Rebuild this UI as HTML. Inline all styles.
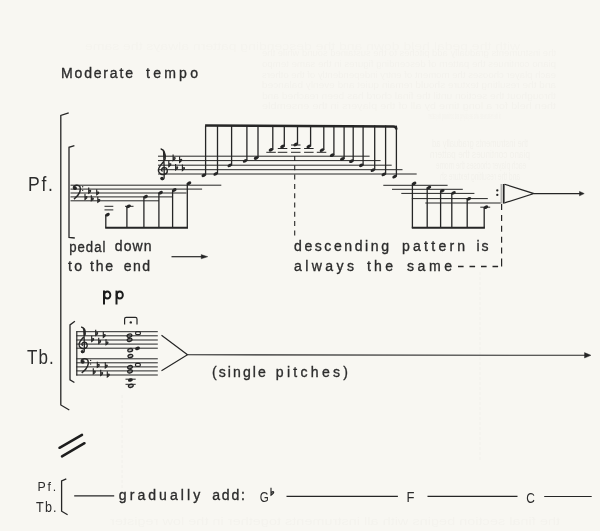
<!DOCTYPE html>
<html><head><meta charset="utf-8"><style>
html,body{margin:0;padding:0;background:#f8f7f2;}
body{width:600px;height:531px;overflow:hidden;position:relative;}
svg{position:absolute;left:0;top:0;will-change:transform;}
text{font-family:"Liberation Sans",sans-serif;}
</style></head><body>
<svg width="600" height="531" viewBox="0 0 600 531">
<g transform="translate(556.0 56) scale(-1 1)"><text x="0" y="0" font-family="Liberation Serif" font-size="9.5" textLength="294.0" lengthAdjust="spacingAndGlyphs" fill="#5a5244" opacity="0.024">the instruments gradually add pitches to the sustained sound while the</text></g>
<g transform="translate(556.0 66.8) scale(-1 1)"><text x="0" y="0" font-family="Liberation Serif" font-size="9.5" textLength="294.0" lengthAdjust="spacingAndGlyphs" fill="#5a5244" opacity="0.024">piano continues the pattern of descending figures in the same tempo</text></g>
<g transform="translate(556.0 77.6) scale(-1 1)"><text x="0" y="0" font-family="Liberation Serif" font-size="9.5" textLength="294.0" lengthAdjust="spacingAndGlyphs" fill="#5a5244" opacity="0.024">each player chooses the moment of entry independently of the others</text></g>
<g transform="translate(556.0 88.4) scale(-1 1)"><text x="0" y="0" font-family="Liberation Serif" font-size="9.5" textLength="294.0" lengthAdjust="spacingAndGlyphs" fill="#5a5244" opacity="0.024">and the resulting texture should remain quiet and evenly balanced</text></g>
<g transform="translate(556.0 99.2) scale(-1 1)"><text x="0" y="0" font-family="Liberation Serif" font-size="9.5" textLength="294.0" lengthAdjust="spacingAndGlyphs" fill="#5a5244" opacity="0.024">throughout the section until the final chord has been reached and</text></g>
<g transform="translate(556.0 109) scale(-1 1)"><text x="0" y="0" font-family="Liberation Serif" font-size="9.5" textLength="294.0" lengthAdjust="spacingAndGlyphs" fill="#5a5244" opacity="0.024">then held for a long time by all of the players in the ensemble</text></g>
<g transform="translate(501.0 118.5) scale(-1 1)"><text x="0" y="0" font-family="Liberation Serif" font-size="9.5" textLength="73.0" lengthAdjust="spacingAndGlyphs" fill="#5a5244" opacity="0.024">of the instruments who are playing and continuing the pattern</text></g>
<g transform="translate(528.0 147) scale(-1 1)"><text x="0" y="0" font-family="Liberation Serif" font-size="10.5" textLength="96.0" lengthAdjust="spacingAndGlyphs" fill="#5a5244" opacity="0.03">the instruments gradually ad</text></g>
<g transform="translate(530.0 158) scale(-1 1)"><text x="0" y="0" font-family="Liberation Serif" font-size="10.5" textLength="100.0" lengthAdjust="spacingAndGlyphs" fill="#5a5244" opacity="0.03">piano continues the pattern </text></g>
<g transform="translate(526.0 169) scale(-1 1)"><text x="0" y="0" font-family="Liberation Serif" font-size="10.5" textLength="90.0" lengthAdjust="spacingAndGlyphs" fill="#5a5244" opacity="0.03">each player chooses the mome</text></g>
<g transform="translate(520.0 180) scale(-1 1)"><text x="0" y="0" font-family="Liberation Serif" font-size="10.5" textLength="80.0" lengthAdjust="spacingAndGlyphs" fill="#5a5244" opacity="0.03">and the resulting texture sh</text></g>
<g transform="translate(520.0 50) scale(-1 1)"><text x="0" y="0" font-family="Liberation Serif" font-size="10.5" textLength="435.0" lengthAdjust="spacingAndGlyphs" fill="#5a5244" opacity="0.014">with the pedal held down and the descending pattern always the same</text></g>
<g transform="translate(560.0 525) scale(-1 1)"><text x="0" y="0" font-family="Liberation Serif" font-size="10.5" textLength="450.0" lengthAdjust="spacingAndGlyphs" fill="#5a5244" opacity="0.02">the final section begins with all instruments together in the low register</text></g>
<line x1="122" y1="395" x2="122" y2="490" stroke="#5a5244" stroke-width="1" stroke-dasharray="3 2" opacity="0.035"/>
<line x1="480" y1="272" x2="480" y2="460" stroke="#5a5244" stroke-width="1" stroke-dasharray="3 2" opacity="0.03"/>
<path d="M68.7,112.8 L60.8,115.4 L60.8,405 L69.3,410" stroke="#262626" stroke-width="1.3" fill="none" />
<path d="M74.4,145.7 L69,147.3 L69,237.3 L74.8,238" stroke="#262626" stroke-width="1.3" fill="none" />
<line x1="70.5" y1="185.2" x2="221.3" y2="185.2" stroke="#262626" stroke-width="1.0" />
<line x1="70.5" y1="189.1" x2="202.1" y2="189.1" stroke="#262626" stroke-width="1.0" />
<line x1="70.5" y1="193.0" x2="186.5" y2="193.0" stroke="#262626" stroke-width="1.0" />
<line x1="70.5" y1="196.9" x2="172.0" y2="196.9" stroke="#262626" stroke-width="1.0" />
<line x1="70.5" y1="200.8" x2="159.0" y2="200.8" stroke="#262626" stroke-width="1.0" />
<path d="M73.39,187.96 C73.78,184.61 78.52,184.41 79.91,186.58 C81.29,189.15 80.10,194.68 73.98,199.02" stroke="#262626" stroke-width="1.5" fill="none" />
<circle cx="74.97" cy="188.16" r="1.90" fill="#262626"/>
<circle cx="82.67" cy="186.78" r="0.67" fill="#262626"/>
<circle cx="82.67" cy="190.33" r="0.67" fill="#262626"/>
<path d="M85.00,193.84 L85.00,199.52 C86.12,198.80 87.32,197.84 87.00,197.04 C86.68,196.32 85.56,196.88 85.00,197.60" stroke="#262626" stroke-width="1.15" fill="#262626" fill-opacity="0.55"/>
<path d="M88.70,187.54 L88.70,193.22 C89.82,192.50 91.02,191.54 90.70,190.74 C90.38,190.02 89.26,190.58 88.70,191.30" stroke="#262626" stroke-width="1.15" fill="#262626" fill-opacity="0.55"/>
<path d="M91.30,195.14 L91.30,200.82 C92.42,200.10 93.62,199.14 93.30,198.34 C92.98,197.62 91.86,198.18 91.30,198.90" stroke="#262626" stroke-width="1.15" fill="#262626" fill-opacity="0.55"/>
<path d="M96.70,189.14 L96.70,194.82 C97.82,194.10 99.02,193.14 98.70,192.34 C98.38,191.62 97.26,192.18 96.70,192.90" stroke="#262626" stroke-width="1.15" fill="#262626" fill-opacity="0.55"/>
<path d="M97.80,196.64 L97.80,202.32 C98.92,201.60 100.12,200.64 99.80,199.84 C99.48,199.12 98.36,199.68 97.80,200.40" stroke="#262626" stroke-width="1.15" fill="#262626" fill-opacity="0.55"/>
<line x1="105.8" y1="214.7" x2="105.8" y2="227.8" stroke="#262626" stroke-width="1.3" />
<ellipse cx="107.5" cy="214.7" rx="2.45" ry="1.6" transform="rotate(-25 107.5 214.7)" fill="#262626"/>
<line x1="126.9" y1="206.3" x2="126.9" y2="227.8" stroke="#262626" stroke-width="1.3" />
<ellipse cx="128.6" cy="206.3" rx="2.45" ry="1.6" transform="rotate(-25 128.6 206.3)" fill="#262626"/>
<line x1="143.9" y1="196.7" x2="143.9" y2="227.8" stroke="#262626" stroke-width="1.3" />
<ellipse cx="145.6" cy="196.7" rx="2.45" ry="1.6" transform="rotate(-25 145.6 196.7)" fill="#262626"/>
<line x1="158.9" y1="192.7" x2="158.9" y2="227.8" stroke="#262626" stroke-width="1.3" />
<ellipse cx="160.6" cy="192.7" rx="2.45" ry="1.6" transform="rotate(-25 160.6 192.7)" fill="#262626"/>
<line x1="172.6" y1="190.0" x2="172.6" y2="227.8" stroke="#262626" stroke-width="1.3" />
<ellipse cx="174.29999999999998" cy="190.0" rx="2.45" ry="1.6" transform="rotate(-25 174.29999999999998 190.0)" fill="#262626"/>
<line x1="187.3" y1="183.2" x2="187.3" y2="227.8" stroke="#262626" stroke-width="1.3" />
<ellipse cx="189.0" cy="183.2" rx="2.45" ry="1.6" transform="rotate(-25 189.0 183.2)" fill="#262626"/>
<line x1="105.2" y1="227.7" x2="188.0" y2="227.7" stroke="#262626" stroke-width="2.1" />
<line x1="104.5" y1="206.3" x2="113.3" y2="206.3" stroke="#262626" stroke-width="1.0" />
<line x1="104.5" y1="209.9" x2="113.3" y2="209.9" stroke="#262626" stroke-width="1.0" />
<line x1="125.0" y1="206.3" x2="133.5" y2="206.3" stroke="#262626" stroke-width="1.0" />
<line x1="158" y1="156.2" x2="369.6" y2="156.2" stroke="#262626" stroke-width="1.0" />
<line x1="158" y1="160.6" x2="380.6" y2="160.6" stroke="#262626" stroke-width="1.0" />
<line x1="158" y1="165.2" x2="391.7" y2="165.2" stroke="#262626" stroke-width="1.0" />
<line x1="158" y1="169.7" x2="402.5" y2="169.7" stroke="#262626" stroke-width="1.0" />
<line x1="158" y1="174.0" x2="416.7" y2="174.0" stroke="#262626" stroke-width="1.0" />
<path d="M161.38,177.80 C160.70,179.82 163.85,180.27 164.08,178.02 L164.08,178.02 C164.53,171.95 163.85,160.70 163.62,151.70 C163.40,149.90 161.60,149.00 160.70,149.00 M160.70,149.00 C163.85,149.45 165.65,151.70 165.20,158.90 C164.75,162.05 158.90,165.20 158.45,169.70 C158.00,173.30 162.05,175.55 165.20,174.20 C168.35,172.85 167.90,167.90 164.30,167.45 C161.60,167.45 160.70,170.15 162.50,171.50" stroke="#262626" stroke-width="1.35" fill="none" />
<circle cx="162.05" cy="178.47" r="1.71" fill="#262626"/>
<path d="M168.80,160.68 L168.80,166.72 C169.99,165.95 171.27,164.93 170.93,164.08 C170.59,163.31 169.40,163.91 168.80,164.67" stroke="#262626" stroke-width="1.15" fill="#262626" fill-opacity="0.55"/>
<path d="M173.10,154.58 L173.10,160.62 C174.29,159.85 175.56,158.83 175.22,157.98 C174.88,157.22 173.69,157.81 173.10,158.57" stroke="#262626" stroke-width="1.15" fill="#262626" fill-opacity="0.55"/>
<path d="M175.60,163.88 L175.60,169.92 C176.79,169.15 178.06,168.13 177.72,167.28 C177.38,166.52 176.19,167.11 175.60,167.88" stroke="#262626" stroke-width="1.15" fill="#262626" fill-opacity="0.55"/>
<path d="M179.60,156.38 L179.60,162.42 C180.79,161.65 182.06,160.63 181.72,159.78 C181.38,159.02 180.19,159.61 179.60,160.38" stroke="#262626" stroke-width="1.15" fill="#262626" fill-opacity="0.55"/>
<path d="M182.40,164.58 L182.40,170.62 C183.59,169.85 184.87,168.83 184.53,167.98 C184.19,167.22 183.00,167.81 182.40,168.57" stroke="#262626" stroke-width="1.15" fill="#262626" fill-opacity="0.55"/>
<line x1="205.6" y1="125.6" x2="205.6" y2="175.3" stroke="#262626" stroke-width="1.3" />
<ellipse cx="203.79999999999998" cy="175.3" rx="2.45" ry="1.6" transform="rotate(-25 203.79999999999998 175.3)" fill="#262626"/>
<line x1="217.5" y1="125.6" x2="217.5" y2="173.9" stroke="#262626" stroke-width="1.3" />
<ellipse cx="215.7" cy="173.9" rx="2.45" ry="1.6" transform="rotate(-25 215.7 173.9)" fill="#262626"/>
<line x1="231.6" y1="125.6" x2="231.6" y2="165.4" stroke="#262626" stroke-width="1.3" />
<ellipse cx="229.79999999999998" cy="165.4" rx="2.45" ry="1.6" transform="rotate(-25 229.79999999999998 165.4)" fill="#262626"/>
<line x1="246.9" y1="125.6" x2="246.9" y2="160.9" stroke="#262626" stroke-width="1.3" />
<ellipse cx="245.1" cy="160.9" rx="2.45" ry="1.6" transform="rotate(-25 245.1 160.9)" fill="#262626"/>
<line x1="258.0" y1="125.6" x2="258.0" y2="158.0" stroke="#262626" stroke-width="1.3" />
<ellipse cx="256.2" cy="158.0" rx="2.45" ry="1.6" transform="rotate(-25 256.2 158.0)" fill="#262626"/>
<line x1="272.8" y1="125.6" x2="272.8" y2="149.8" stroke="#262626" stroke-width="1.3" />
<ellipse cx="271.0" cy="149.8" rx="2.45" ry="1.6" transform="rotate(-25 271.0 149.8)" fill="#262626"/>
<line x1="284.3" y1="125.6" x2="284.3" y2="146.5" stroke="#262626" stroke-width="1.3" />
<ellipse cx="282.5" cy="146.5" rx="2.45" ry="1.6" transform="rotate(-25 282.5 146.5)" fill="#262626"/>
<line x1="297.5" y1="125.6" x2="297.5" y2="144.5" stroke="#262626" stroke-width="1.3" />
<ellipse cx="295.7" cy="144.5" rx="2.45" ry="1.6" transform="rotate(-25 295.7 144.5)" fill="#262626"/>
<line x1="310.6" y1="125.6" x2="310.6" y2="146.4" stroke="#262626" stroke-width="1.3" />
<ellipse cx="308.8" cy="146.4" rx="2.45" ry="1.6" transform="rotate(-25 308.8 146.4)" fill="#262626"/>
<line x1="323.8" y1="125.6" x2="323.8" y2="150.1" stroke="#262626" stroke-width="1.3" />
<ellipse cx="322.0" cy="150.1" rx="2.45" ry="1.6" transform="rotate(-25 322.0 150.1)" fill="#262626"/>
<line x1="333.9" y1="125.6" x2="333.9" y2="155.2" stroke="#262626" stroke-width="1.3" />
<ellipse cx="332.09999999999997" cy="155.2" rx="2.45" ry="1.6" transform="rotate(-25 332.09999999999997 155.2)" fill="#262626"/>
<line x1="344.1" y1="125.6" x2="344.1" y2="159.0" stroke="#262626" stroke-width="1.3" />
<ellipse cx="342.3" cy="159.0" rx="2.45" ry="1.6" transform="rotate(-25 342.3 159.0)" fill="#262626"/>
<line x1="353.2" y1="125.6" x2="353.2" y2="161.2" stroke="#262626" stroke-width="1.3" />
<ellipse cx="351.4" cy="161.2" rx="2.45" ry="1.6" transform="rotate(-25 351.4 161.2)" fill="#262626"/>
<line x1="363.1" y1="125.6" x2="363.1" y2="165.3" stroke="#262626" stroke-width="1.3" />
<ellipse cx="361.3" cy="165.3" rx="2.45" ry="1.6" transform="rotate(-25 361.3 165.3)" fill="#262626"/>
<line x1="374.7" y1="125.6" x2="374.7" y2="170.1" stroke="#262626" stroke-width="1.3" />
<ellipse cx="372.9" cy="170.1" rx="2.45" ry="1.6" transform="rotate(-25 372.9 170.1)" fill="#262626"/>
<line x1="385.6" y1="125.6" x2="385.6" y2="174.4" stroke="#262626" stroke-width="1.3" />
<ellipse cx="383.8" cy="174.4" rx="2.45" ry="1.6" transform="rotate(-25 383.8 174.4)" fill="#262626"/>
<line x1="396.4" y1="125.6" x2="396.4" y2="176.6" stroke="#262626" stroke-width="1.3" />
<ellipse cx="394.59999999999997" cy="176.6" rx="2.45" ry="1.6" transform="rotate(-25 394.59999999999997 176.6)" fill="#262626"/>
<path d="M205.1,125.5 L393.4,126.5 Q396.4,126.7 396.4,129.5" stroke="#262626" stroke-width="2.4" fill="none" />
<line x1="266.3" y1="152.3" x2="275.8" y2="152.3" stroke="#262626" stroke-width="1.0" />
<line x1="277.8" y1="148.5" x2="287.3" y2="148.5" stroke="#262626" stroke-width="1.0" />
<line x1="277.8" y1="152.3" x2="287.3" y2="152.3" stroke="#262626" stroke-width="1.0" />
<line x1="291.0" y1="145.0" x2="300.5" y2="145.0" stroke="#262626" stroke-width="1.0" />
<line x1="291.0" y1="148.5" x2="300.5" y2="148.5" stroke="#262626" stroke-width="1.0" />
<line x1="291.0" y1="152.3" x2="300.5" y2="152.3" stroke="#262626" stroke-width="1.0" />
<line x1="304.1" y1="148.5" x2="313.6" y2="148.5" stroke="#262626" stroke-width="1.0" />
<line x1="304.1" y1="152.3" x2="313.6" y2="152.3" stroke="#262626" stroke-width="1.0" />
<line x1="316.8" y1="152.3" x2="326.3" y2="152.3" stroke="#262626" stroke-width="1.0" />
<line x1="383.3" y1="185.3" x2="447.6" y2="185.3" stroke="#262626" stroke-width="1.0" />
<line x1="392.0" y1="189.3" x2="462.8" y2="189.3" stroke="#262626" stroke-width="1.0" />
<line x1="401.3" y1="193.4" x2="474.4" y2="193.4" stroke="#262626" stroke-width="1.0" />
<line x1="411.8" y1="198.6" x2="487.8" y2="198.6" stroke="#262626" stroke-width="1.0" />
<line x1="425.3" y1="203.0" x2="500.7" y2="203.0" stroke="#262626" stroke-width="1.0" />
<line x1="412.4" y1="183.5" x2="412.4" y2="227.8" stroke="#262626" stroke-width="1.3" />
<ellipse cx="414.09999999999997" cy="183.5" rx="2.45" ry="1.6" transform="rotate(-25 414.09999999999997 183.5)" fill="#262626"/>
<line x1="427.2" y1="187.6" x2="427.2" y2="227.8" stroke="#262626" stroke-width="1.3" />
<ellipse cx="428.9" cy="187.6" rx="2.45" ry="1.6" transform="rotate(-25 428.9 187.6)" fill="#262626"/>
<line x1="440.6" y1="190.8" x2="440.6" y2="227.8" stroke="#262626" stroke-width="1.3" />
<ellipse cx="442.3" cy="190.8" rx="2.45" ry="1.6" transform="rotate(-25 442.3 190.8)" fill="#262626"/>
<line x1="451.8" y1="192.9" x2="451.8" y2="227.8" stroke="#262626" stroke-width="1.3" />
<ellipse cx="453.5" cy="192.9" rx="2.45" ry="1.6" transform="rotate(-25 453.5 192.9)" fill="#262626"/>
<line x1="467.2" y1="198.8" x2="467.2" y2="227.8" stroke="#262626" stroke-width="1.3" />
<ellipse cx="468.9" cy="198.8" rx="2.45" ry="1.6" transform="rotate(-25 468.9 198.8)" fill="#262626"/>
<line x1="484.2" y1="207.2" x2="484.2" y2="227.8" stroke="#262626" stroke-width="1.3" />
<ellipse cx="485.9" cy="207.2" rx="2.45" ry="1.6" transform="rotate(-25 485.9 207.2)" fill="#262626"/>
<line x1="411.8" y1="227.7" x2="484.9" y2="227.7" stroke="#262626" stroke-width="2.1" />
<line x1="480.3" y1="207.2" x2="490.2" y2="207.2" stroke="#262626" stroke-width="1.0" />
<line x1="501.2" y1="184.0" x2="501.2" y2="203.6" stroke="#777" stroke-width="0.8" />
<line x1="503.7" y1="184.0" x2="503.7" y2="203.6" stroke="#262626" stroke-width="1.8" />
<circle cx="497.3" cy="190.4" r="1.15" fill="#262626"/><circle cx="497.3" cy="194.9" r="1.15" fill="#262626"/>
<path d="M504.5,184.2 L533.9,193.6 L504.5,202.9" stroke="#262626" stroke-width="1.2" fill="none" />
<line x1="533.9" y1="193.6" x2="581" y2="193.6" stroke="#262626" stroke-width="1.1" />
<path d="M579.5,191.4 L584.2,193.6 L579.5,195.8 Z" stroke="#262626" stroke-width="0.5" fill="#262626" />
<line x1="294.7" y1="156.0" x2="294.7" y2="235.8" stroke="#262626" stroke-width="1.1" stroke-dasharray="5 4.3"/>
<line x1="501.6" y1="204.0" x2="501.6" y2="266.6" stroke="#262626" stroke-width="1.2" stroke-dasharray="6 4.9 6 4.9 6 4.9 6 4.9 6 4.9 8.1 9"/>
<line x1="171.5" y1="256.7" x2="202.5" y2="256.7" stroke="#262626" stroke-width="1.2" />
<path d="M201.2,254.6 L207.8,256.7 L201.2,258.8 Z" stroke="#262626" stroke-width="0.4" fill="#262626" />
<line x1="458.0" y1="266.5" x2="498.2" y2="266.5" stroke="#262626" stroke-width="1.3" stroke-dasharray="5.6 5.9"/>
<line x1="104.0" y1="290.6" x2="104.0" y2="304.5" stroke="#1c1c1c" stroke-width="2.0" />
<ellipse cx="107.3" cy="295.0" rx="3.05" ry="3.55" fill="none" stroke="#1c1c1c" stroke-width="1.9"/>
<line x1="116.5" y1="290.6" x2="116.5" y2="304.5" stroke="#1c1c1c" stroke-width="2.0" />
<ellipse cx="119.8" cy="295.0" rx="3.05" ry="3.55" fill="none" stroke="#1c1c1c" stroke-width="1.9"/>
<path d="M74.9,321.3 L70.0,324.9 L70.0,379.8 L74.4,382.5" stroke="#262626" stroke-width="1.3" fill="none" />
<line x1="76.3" y1="331.7" x2="157.8" y2="331.7" stroke="#262626" stroke-width="1.0" />
<line x1="76.3" y1="335.8" x2="157.8" y2="335.8" stroke="#262626" stroke-width="1.0" />
<line x1="76.3" y1="340.0" x2="157.8" y2="340.0" stroke="#262626" stroke-width="1.0" />
<line x1="76.3" y1="344.1" x2="157.8" y2="344.1" stroke="#262626" stroke-width="1.0" />
<line x1="76.3" y1="348.2" x2="157.8" y2="348.2" stroke="#262626" stroke-width="1.0" />
<line x1="76.3" y1="358.8" x2="157.8" y2="358.8" stroke="#262626" stroke-width="1.0" />
<line x1="76.3" y1="362.8" x2="157.8" y2="362.8" stroke="#262626" stroke-width="1.0" />
<line x1="76.3" y1="366.9" x2="157.8" y2="366.9" stroke="#262626" stroke-width="1.0" />
<line x1="76.3" y1="370.9" x2="157.8" y2="370.9" stroke="#262626" stroke-width="1.0" />
<line x1="76.3" y1="375.0" x2="157.8" y2="375.0" stroke="#262626" stroke-width="1.0" />
<line x1="76.8" y1="331.2" x2="76.8" y2="375.5" stroke="#262626" stroke-width="1.2" />
<path d="M81.73,351.00 C81.11,352.87 84.02,353.28 84.22,351.20 L84.22,351.20 C84.64,346.22 84.02,335.85 83.81,329.62 C83.60,327.96 81.94,327.13 81.11,327.13 M81.11,327.13 C84.02,327.55 85.67,329.62 85.26,334.19 C84.84,337.09 79.45,340.00 79.03,344.15 C78.62,347.47 82.35,349.55 85.26,348.30 C88.16,347.06 87.75,342.49 84.43,342.07 C81.94,342.07 81.11,344.56 82.77,345.81" stroke="#262626" stroke-width="1.35" fill="none" />
<circle cx="82.35" cy="351.62" r="1.58" fill="#262626"/>
<path d="M81.11,361.63 C81.52,358.19 86.38,357.99 87.79,360.22 C89.21,362.85 87.99,368.52 81.72,372.98" stroke="#262626" stroke-width="1.5" fill="none" />
<circle cx="82.73" cy="361.84" r="1.94" fill="#262626"/>
<circle cx="90.63" cy="360.42" r="0.69" fill="#262626"/>
<circle cx="90.63" cy="364.06" r="0.69" fill="#262626"/>
<path d="M91.70,335.84 L91.70,341.52 C92.82,340.80 94.02,339.84 93.70,339.04 C93.38,338.32 92.26,338.88 91.70,339.60" stroke="#262626" stroke-width="1.15" fill="#262626" fill-opacity="0.55"/>
<path d="M95.70,329.84 L95.70,335.52 C96.82,334.80 98.02,333.84 97.70,333.04 C97.38,332.32 96.26,332.88 95.70,333.60" stroke="#262626" stroke-width="1.15" fill="#262626" fill-opacity="0.55"/>
<path d="M98.70,337.84 L98.70,343.52 C99.82,342.80 101.02,341.84 100.70,341.04 C100.38,340.32 99.26,340.88 98.70,341.60" stroke="#262626" stroke-width="1.15" fill="#262626" fill-opacity="0.55"/>
<path d="M103.30,331.84 L103.30,337.52 C104.42,336.80 105.62,335.84 105.30,335.04 C104.98,334.32 103.86,334.88 103.30,335.60" stroke="#262626" stroke-width="1.15" fill="#262626" fill-opacity="0.55"/>
<path d="M106.00,339.14 L106.00,344.82 C107.12,344.10 108.32,343.14 108.00,342.34 C107.68,341.62 106.56,342.18 106.00,342.90" stroke="#262626" stroke-width="1.15" fill="#262626" fill-opacity="0.55"/>
<path d="M93.30,368.34 L93.30,374.02 C94.42,373.30 95.62,372.34 95.30,371.54 C94.98,370.82 93.86,371.38 93.30,372.10" stroke="#262626" stroke-width="1.15" fill="#262626" fill-opacity="0.55"/>
<path d="M97.30,361.64 L97.30,367.32 C98.42,366.60 99.62,365.64 99.30,364.84 C98.98,364.12 97.86,364.68 97.30,365.40" stroke="#262626" stroke-width="1.15" fill="#262626" fill-opacity="0.55"/>
<path d="M100.70,369.84 L100.70,375.52 C101.82,374.80 103.02,373.84 102.70,373.04 C102.38,372.32 101.26,372.88 100.70,373.60" stroke="#262626" stroke-width="1.15" fill="#262626" fill-opacity="0.55"/>
<path d="M105.30,362.34 L105.30,368.02 C106.42,367.30 107.62,366.34 107.30,365.54 C106.98,364.82 105.86,365.38 105.30,366.10" stroke="#262626" stroke-width="1.15" fill="#262626" fill-opacity="0.55"/>
<path d="M107.30,371.34 L107.30,377.02 C108.42,376.30 109.62,375.34 109.30,374.54 C108.98,373.82 107.86,374.38 107.30,375.10" stroke="#262626" stroke-width="1.15" fill="#262626" fill-opacity="0.55"/>
<path d="M124.6,324.4 L124.6,319.0 Q124.6,317.4 126.2,317.4 L135.4,317.4 Q137.0,317.4 137.0,319.0 L137.0,324.4" stroke="#262626" stroke-width="1.2" fill="none" />
<circle cx="130.8" cy="322.4" r="1.2" fill="#262626"/>
<ellipse cx="129.5" cy="335.6" rx="2.45" ry="1.55" transform="rotate(-15 129.5 335.6)" fill="#262626" fill-opacity="0.25" stroke="#262626" stroke-width="1.3"/>
<ellipse cx="129.6" cy="339.8" rx="2.45" ry="1.55" transform="rotate(-15 129.6 339.8)" fill="#262626" fill-opacity="0.25" stroke="#262626" stroke-width="1.3"/>
<ellipse cx="130.2" cy="350.2" rx="2.45" ry="1.55" transform="rotate(-15 130.2 350.2)" fill="#262626" fill-opacity="0.25" stroke="#262626" stroke-width="1.3"/>
<ellipse cx="130.4" cy="356.0" rx="2.45" ry="1.55" transform="rotate(-15 130.4 356.0)" fill="#262626" fill-opacity="0.25" stroke="#262626" stroke-width="1.3"/>
<ellipse cx="130.0" cy="367.1" rx="2.45" ry="1.55" transform="rotate(-15 130.0 367.1)" fill="#262626" fill-opacity="0.25" stroke="#262626" stroke-width="1.3"/>
<ellipse cx="130.0" cy="371.3" rx="2.45" ry="1.55" transform="rotate(-15 130.0 371.3)" fill="#262626" fill-opacity="0.25" stroke="#262626" stroke-width="1.3"/>
<ellipse cx="130.8" cy="385.8" rx="2.45" ry="1.55" transform="rotate(-15 130.8 385.8)" fill="#262626" fill-opacity="0.25" stroke="#262626" stroke-width="1.3"/>
<rect x="135.6" y="331.7" width="4.8" height="3.0" rx="1.2" fill="none" stroke="#262626" stroke-width="1.2"/>
<rect x="135.5" y="363.4" width="4.8" height="3.0" rx="1.2" fill="none" stroke="#262626" stroke-width="1.2"/>
<ellipse cx="137.5" cy="348.4" rx="2.5" ry="1.7" transform="rotate(-15 137.5 348.4)" fill="#262626"/>
<ellipse cx="130.4" cy="380.0" rx="2.5" ry="1.7" transform="rotate(-15 130.4 380.0)" fill="#262626"/>
<line x1="125.5" y1="379.2" x2="135.7" y2="379.2" stroke="#262626" stroke-width="1.0" />
<line x1="125.5" y1="384.3" x2="135.7" y2="384.3" stroke="#262626" stroke-width="1.0" />
<path d="M161.5,335.2 L187.5,354.8 L161.5,370.8" stroke="#262626" stroke-width="1.2" fill="none" />
<line x1="187.5" y1="354.8" x2="587" y2="355.3" stroke="#262626" stroke-width="1.1" />
<path d="M584.5,352.6 L591,355.3 L584.5,358.0 Z" stroke="#262626" stroke-width="0.4" fill="#262626" />
<line x1="59.5" y1="447.8" x2="82" y2="434.8" stroke="#1e1e1e" stroke-width="2.5" stroke-linecap="round"/>
<line x1="62" y1="456.4" x2="84.5" y2="443.2" stroke="#1e1e1e" stroke-width="2.5" stroke-linecap="round"/>
<path d="M66.3,478.8 L61.6,481.0 L61.6,511.2 L67.6,514.8" stroke="#262626" stroke-width="1.3" fill="none" />
<line x1="74.2" y1="495.9" x2="114.2" y2="495.9" stroke="#262626" stroke-width="1.2" />
<path d="M271.00,487.84 L271.00,495.30 C272.47,494.35 274.05,493.09 273.62,492.04 C273.20,491.10 271.74,491.83 271.00,492.78" stroke="#262626" stroke-width="1.15" fill="#262626" fill-opacity="0.55"/>
<line x1="286.5" y1="496.4" x2="397.9" y2="496.4" stroke="#262626" stroke-width="1.2" />
<line x1="427.5" y1="496.3" x2="517.5" y2="496.3" stroke="#262626" stroke-width="1.2" />
<line x1="544.2" y1="496.5" x2="591.7" y2="496.5" stroke="#262626" stroke-width="1.2" />
<text transform="translate(61.00 77.5) scale(0.92 1)" font-size="15.3" font-weight="normal" fill="#2c2c2c" stroke="#2c2c2c" stroke-width="0.35" textLength="78.26" lengthAdjust="spacing" >Moderate</text>
<text transform="translate(146.00 77.5) scale(0.92 1)" font-size="15.3" font-weight="normal" fill="#2c2c2c" stroke="#2c2c2c" stroke-width="0.35" textLength="56.52" lengthAdjust="spacing" >tempo</text>
<text transform="translate(28.00 190.8) scale(0.9 1)" font-size="19.5" font-weight="normal" fill="#2c2c2c" stroke="#2c2c2c" stroke-width="0.0" textLength="27.78" lengthAdjust="spacing" >Pf.</text>
<text transform="translate(69.20 251.5) scale(0.86 1)" font-size="15.3" font-weight="normal" fill="#2c2c2c" stroke="#2c2c2c" stroke-width="0.35" textLength="42.09" lengthAdjust="spacing" >pedal</text>
<text transform="translate(114.80 251.3) scale(0.92 1)" font-size="15.3" font-weight="normal" fill="#2c2c2c" stroke="#2c2c2c" stroke-width="0.35" textLength="40.00" lengthAdjust="spacing" >down</text>
<text transform="translate(68.00 271) scale(0.92 1)" font-size="15.3" font-weight="normal" fill="#2c2c2c" stroke="#2c2c2c" stroke-width="0.35" textLength="15.22" lengthAdjust="spacing" >to</text>
<text transform="translate(90.00 271) scale(0.92 1)" font-size="15.3" font-weight="normal" fill="#2c2c2c" stroke="#2c2c2c" stroke-width="0.35" textLength="25.00" lengthAdjust="spacing" >the</text>
<text transform="translate(123.80 271) scale(0.92 1)" font-size="15.3" font-weight="normal" fill="#2c2c2c" stroke="#2c2c2c" stroke-width="0.35" textLength="28.70" lengthAdjust="spacing" >end</text>
<text transform="translate(294.00 251) scale(0.92 1)" font-size="15.3" font-weight="normal" fill="#2c2c2c" stroke="#2c2c2c" stroke-width="0.35" textLength="103.26" lengthAdjust="spacing" >descending</text>
<text transform="translate(402.00 251) scale(0.92 1)" font-size="15.3" font-weight="normal" fill="#2c2c2c" stroke="#2c2c2c" stroke-width="0.35" textLength="68.70" lengthAdjust="spacing" >pattern</text>
<text transform="translate(476.40 251) scale(0.92 1)" font-size="15.3" font-weight="normal" fill="#2c2c2c" stroke="#2c2c2c" stroke-width="0.35" textLength="13.26" lengthAdjust="spacing" >is</text>
<text transform="translate(294.00 271) scale(0.92 1)" font-size="15.3" font-weight="normal" fill="#2c2c2c" stroke="#2c2c2c" stroke-width="0.35" textLength="65.22" lengthAdjust="spacing" >always</text>
<text transform="translate(367.00 271) scale(0.92 1)" font-size="15.3" font-weight="normal" fill="#2c2c2c" stroke="#2c2c2c" stroke-width="0.35" textLength="28.26" lengthAdjust="spacing" >the</text>
<text transform="translate(407.00 271) scale(0.92 1)" font-size="15.3" font-weight="normal" fill="#2c2c2c" stroke="#2c2c2c" stroke-width="0.35" textLength="48.91" lengthAdjust="spacing" >same</text>
<text transform="translate(27.00 363.6) scale(0.85 1)" font-size="20" font-weight="normal" fill="#2c2c2c" stroke="#2c2c2c" stroke-width="0.0" textLength="31.53" lengthAdjust="spacing" >Tb.</text>
<text transform="translate(212.00 376.8) scale(0.92 1)" font-size="15.3" font-weight="normal" fill="#2c2c2c" stroke="#2c2c2c" stroke-width="0.35" textLength="58.48" lengthAdjust="spacing" >(single</text>
<text transform="translate(275.80 376.8) scale(0.92 1)" font-size="15.3" font-weight="normal" fill="#2c2c2c" stroke="#2c2c2c" stroke-width="0.35" textLength="78.48" lengthAdjust="spacing" >pitches)</text>
<text transform="translate(37.40 490.6) scale(0.9 1)" font-size="13.7" font-weight="normal" fill="#2c2c2c" stroke="#2c2c2c" stroke-width="0.0" textLength="20.89" lengthAdjust="spacing" >Pf.</text>
<text transform="translate(36.00 511.8) scale(0.85 1)" font-size="14.8" font-weight="normal" fill="#2c2c2c" stroke="#2c2c2c" stroke-width="0.0" textLength="24.24" lengthAdjust="spacing" >Tb.</text>
<text transform="translate(118.80 500.2) scale(0.92 1)" font-size="15.3" font-weight="normal" fill="#2c2c2c" stroke="#2c2c2c" stroke-width="0.35" textLength="88.48" lengthAdjust="spacing" >gradually</text>
<text transform="translate(212.20 500.2) scale(0.92 1)" font-size="15.3" font-weight="normal" fill="#2c2c2c" stroke="#2c2c2c" stroke-width="0.35" textLength="35.65" lengthAdjust="spacing" >add:</text>
<text transform="translate(259.80 502) scale(0.76 1)" font-size="15.3" font-weight="normal" fill="#2c2c2c" stroke="#2c2c2c" stroke-width="0.0" >G</text>
<text transform="translate(406.60 502) scale(0.85 1)" font-size="15.3" font-weight="normal" fill="#2c2c2c" stroke="#2c2c2c" stroke-width="0.0" >F</text>
<text transform="translate(526.20 502.8) scale(0.78 1)" font-size="15.3" font-weight="normal" fill="#2c2c2c" stroke="#2c2c2c" stroke-width="0.0" >C</text>
</svg></body></html>
